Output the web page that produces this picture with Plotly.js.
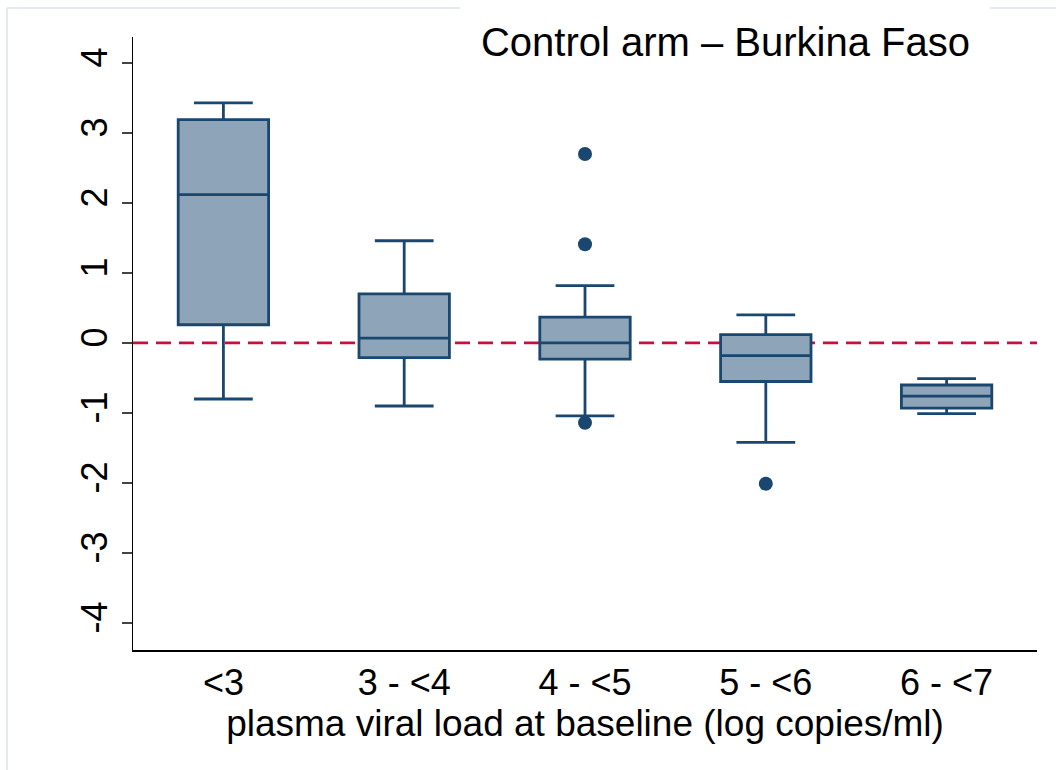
<!DOCTYPE html>
<html>
<head>
<meta charset="utf-8">
<script src="https://cdn.plot.ly/plotly-3.0.1.min.js"></script>
<style>html,body{margin:0;padding:0;background:#fff;}#chart{width:1056px;height:770px;}</style>
</head>
<body>
<div id="chart"></div>
<script>
// Data
const categories = ['<3', '3 - <4', '4 - <5', '5 - <6', '6 - <7'];
const upperWhisker = [3.43, 1.46, 0.82, 0.40, -0.51];
const q3Values     = [3.19, 0.70, 0.37, 0.12, -0.60];
const medianValues = [2.12, 0.07, 0.00, -0.18, -0.76];
const q1Values     = [0.26, -0.21, -0.23, -0.55, -0.93];
const lowerWhisker = [-0.80, -0.90, -1.04, -1.42, -1.01];
const outlierCats  = ['4 - <5', '4 - <5', '4 - <5', '5 - <6'];
const outlierVals  = [2.70, 1.41, -1.14, -2.01];
const yTickVals    = [-4, -3, -2, -1, 0, 1, 2, 3, 4];
const yTickText    = ['-4', '-3', '-2', '-1', '0', '1', '2', '3', '4'];
const referenceY   = 0;

const navy = '#1a476f';
const fill = '#8ea4b8';
const font = 'Liberation Sans, Arial, sans-serif';

const traces = [
  {
    type: 'box',
    x: categories,
    q1: q1Values,
    median: medianValues,
    q3: q3Values,
    lowerfence: lowerWhisker,
    upperfence: upperWhisker,
    boxpoints: false,
    width: 0.5,
    whiskerwidth: 0.65,
    fillcolor: fill,
    line: {color: navy, width: 2.8},
    showlegend: false,
    hoverinfo: 'skip'
  },
  {
    type: 'scatter',
    mode: 'markers',
    x: outlierCats,
    y: outlierVals,
    marker: {color: navy, size: 14},
    showlegend: false,
    hoverinfo: 'skip'
  }
];

const layout = {
  width: 1056,
  height: 770,
  margin: {l: 133, r: 19, t: 37, b: 120},
  paper_bgcolor: '#ffffff',
  plot_bgcolor: '#ffffff',
  font: {family: font, color: '#000'},
  showlegend: false,
  title: {
    text: 'Control arm \u2013 Burkina Faso',
    font: {family: font, size: 40, color: '#000'},
    x: 725.5 / 1056,
    xanchor: 'center',
    xref: 'container',
    yref: 'container',
    y: 1 - 42 / 770,
    yanchor: 'middle'
  },
  xaxis: {
    type: 'category',
    categoryarray: categories,
    categoryorder: 'array',
    range: [-0.5, 4.5],
    showline: true,
    linecolor: '#000',
    linewidth: 1.5,
    ticks: '',
    showgrid: false,
    zeroline: false,
    tickfont: {family: font, size: 36, color: '#000'},
    title: {text: 'plasma viral load at baseline (log copies/ml)', font: {family: font, size: 37, color: '#000'}, standoff: 6}
  },
  yaxis: {
    range: [-4.386, 4.371],
    tickvals: yTickVals,
    ticktext: yTickText,
    tickangle: -90,
    showline: true,
    linecolor: '#000',
    linewidth: 1.5,
    ticks: 'outside',
    ticklen: 10,
    tickwidth: 1.5,
    tickcolor: '#444',
    showgrid: false,
    zeroline: false,
    tickfont: {family: font, size: 36, color: '#000'}
  },
  shapes: [
    {type: 'line', xref: 'paper', x0: 0, x1: 1, yref: 'y', y0: referenceY, y1: referenceY,
     line: {color: '#c8103c', width: 2.8, dash: '15px,8px'}, layer: 'below'},
    // faint outer frame (top segments around the title and left edge)
    {type: 'line', xref: 'paper', yref: 'paper', x0: (7 - 133) / 904, x1: (460 - 133) / 904, y0: (650 - 8) / 613, y1: (650 - 8) / 613,
     line: {color: '#e3ebf0', width: 2}, layer: 'above'},
    {type: 'line', xref: 'paper', yref: 'paper', x0: (990 - 133) / 904, x1: (1070 - 133) / 904, y0: (650 - 8) / 613, y1: (650 - 8) / 613,
     line: {color: '#e3ebf0', width: 2}, layer: 'above'},
    {type: 'line', xref: 'paper', yref: 'paper', x0: (7 - 133) / 904, x1: (7 - 133) / 904, y0: (650 - 8) / 613, y1: (650 - 790) / 613,
     line: {color: '#e3ebf0', width: 2}, layer: 'above'}
  ]
};

Plotly.newPlot('chart', traces, layout, {displayModeBar: false, staticPlot: true});
</script>
</body>
</html>
